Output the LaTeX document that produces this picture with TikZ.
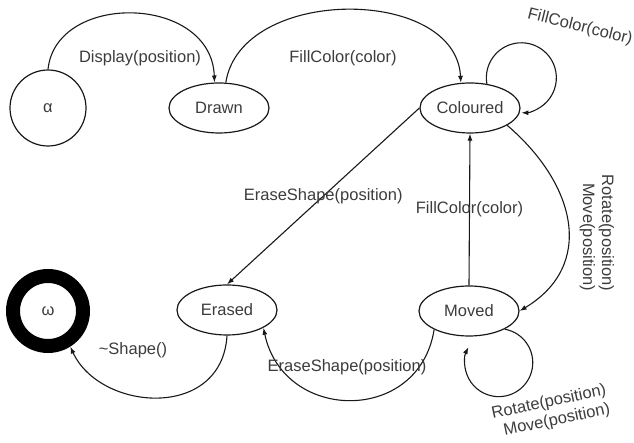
\documentclass[tikz,border=0pt]{standalone}
\usepackage{fontspec}
\setmainfont{Liberation Sans}
\usetikzlibrary{arrows.meta,shapes.geometric}
\definecolor{Ink}{RGB}{25,25,25}
\definecolor{TextGray}{RGB}{60,60,60}
\tikzset{
  >=Latex,
  stateOval/.style={ellipse,draw=Ink,line width=1.2pt,minimum width=100pt,minimum height=50pt,inner sep=0pt,text=TextGray,font=\fontsize{16.5}{19}\selectfont},
  startState/.style={circle,draw=Ink,line width=1.2pt,minimum size=76pt,inner sep=0pt,text=TextGray,font=\fontsize{16.5}{19}\selectfont},
  endState/.style={circle,draw=black,line width=14pt,minimum size=70pt,inner sep=0pt,text=TextGray,font=\fontsize{16.5}{19}\selectfont},
  trans/.style={-{Latex[length=7pt,width=5pt]},line width=1.1pt,draw=Ink},
  lbl/.style={font=\fontsize{16.5}{19}\selectfont,text=TextGray,align=center,inner sep=1pt}
}

\begin{document}
\begin{tikzpicture}[x=1pt,y=1pt]
  \useasboundingbox (0,0) rectangle (634,443);
  % states
  \node[startState] (alpha) at (48,335) {α};
  \node[stateOval] (drawn) at (219,335) {Drawn};
  \node[stateOval] (coloured) at (470,335) {Coloured};
  \node[stateOval] (moved) at (469,132) {Moved};
  \node[stateOval] (erased) at (227,133) {Erased};
  \node[endState] (omega) at (48,132) {ω};
  % transitions
  \draw[trans] (alpha.north) .. controls +(8,78) and +(-3,88) .. (drawn.100);
  \node[lbl] (lDisplay) at (140,385) {Display(position)};
  \draw[trans] (drawn.75) .. controls +(15,97) and +(-5,97) .. (coloured.110);
  \node[lbl] (lFill) at (343,385) {FillColor(color)};
  \draw[trans] (coloured.55) arc[start angle=190,end angle=-90,radius=35];
  \node[lbl,rotate=-14] (lFillLoop) at (580,416) {FillColor(color)};
  \draw[trans] (coloured.-25) .. controls +(70,-60) and +(75,45) .. (moved.east);
  \node[lbl,rotate=-90,align=right] (lRotMove) at (597,210) {Rotate(position)\\Move(position)};
  \draw[trans] (moved.north) -- (coloured.south) node[lbl,midway] (lFillBack) {FillColor(color)};
  \draw[trans] (moved.-27) arc[start angle=80,end angle=-207,radius=34];
  \node[lbl,rotate=12,align=right] (lRotMoveLoop) at (551,31) {Rotate(position)\\Move(position)};
  \draw[trans] (coloured.west) -- (erased.north) node[lbl,midway] (lErase) {EraseShape(position)};
  \draw[trans] (moved.-152) .. controls +(-15,-95) and +(20,-95) .. (erased.-26);
  \node[lbl] (lEraseMoved) at (347,76) {EraseShape(position)};
  \draw[trans] (erased.south) .. controls +(-5,-85) and +(30,-65) .. (omega.-58);
  \node[lbl] (lDestroy) at (133,93) {\textasciitilde Shape()};
\end{tikzpicture}
\end{document}
